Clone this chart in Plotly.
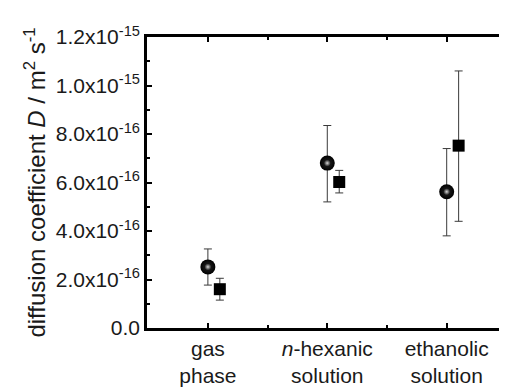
import plotly.graph_objects as go

categories = ["gas<br>phase", "<i>n</i>-hexanic<br>solution", "ethanolic<br>solution"]
cat_pos = [1, 2, 3]
square_offset = 0.1

sphere_vals = [2.52e-16, 6.80e-16, 5.62e-16]
sphere_up = [3.26e-16, 8.35e-16, 7.40e-16]
sphere_low = [1.77e-16, 5.20e-16, 3.80e-16]

square_vals = [1.60e-16, 6.02e-16, 7.52e-16]
square_up = [2.05e-16, 6.50e-16, 10.60e-16]
square_low = [1.15e-16, 5.57e-16, 4.40e-16]

ytick_vals = [0, 2e-16, 4e-16, 6e-16, 8e-16, 1.0e-15, 1.2e-15]
ytick_text = ["0.0", "2.0x10<sup>-16</sup>", "4.0x10<sup>-16</sup>", "6.0x10<sup>-16</sup>",
              "8.0x10<sup>-16</sup>", "1.0x10<sup>-15</sup>", "1.2x10<sup>-15</sup>"]

font = "Liberation Sans, Arial, sans-serif"
txt = "#1a1a1a"

fig = go.Figure()
# sphere body (radial gradient: gradient.color is the centre colour)
fig.add_trace(go.Scatter(
    x=cat_pos, y=sphere_vals, mode="markers",
    marker=dict(symbol="circle", size=15, color="#000000",
                gradient=dict(type="radial", color="#2a2a2a"),
                line=dict(width=0)),
    error_y=dict(type="data", symmetric=False,
                 array=[u - v for u, v in zip(sphere_up, sphere_vals)],
                 arrayminus=[v - l for v, l in zip(sphere_vals, sphere_low)],
                 thickness=1, width=4, color="#3a3a3a"),
    showlegend=False, hoverinfo="skip"))
# highlight of the sphere
fig.add_trace(go.Scatter(
    x=cat_pos, y=sphere_vals, mode="markers",
    marker=dict(symbol="circle", size=7, color="#101010",
                gradient=dict(type="radial", color="#d8d8d8"),
                line=dict(width=0)),
    showlegend=False))
fig.add_trace(go.Scatter(
    x=[p + square_offset for p in cat_pos], y=square_vals, mode="markers",
    marker=dict(symbol="square", size=12, color="#000000", line=dict(width=0)),
    error_y=dict(type="data", symmetric=False,
                 array=[u - v for u, v in zip(square_up, square_vals)],
                 arrayminus=[v - l for v, l in zip(square_vals, square_low)],
                 thickness=1, width=4, color="#3a3a3a"),
    showlegend=False))

axis_common = dict(showline=True, linecolor="black", linewidth=2.5, mirror="allticks",
                   ticks="inside", ticklen=5, tickwidth=2, tickcolor="black",
                   showgrid=False, zeroline=False, automargin=False)

fig.update_xaxes(range=[0.49, 3.48], tickmode="array", tickvals=cat_pos, ticktext=categories,
                 tickfont=dict(family=font, size=21, color=txt),
                 minor=dict(tickvals=[1.5, 2.5], ticks="inside", ticklen=3, tickwidth=2,
                            tickcolor="black"),
                 **axis_common)
fig.update_yaxes(range=[0, 1.2e-15], tickmode="array", tickvals=ytick_vals, ticktext=ytick_text,
                 tickfont=dict(family=font, size=21, color=txt),
                 minor=dict(dtick=1e-16, ticks="inside", ticklen=3, tickwidth=2,
                            tickcolor="black"),
                 title=dict(text="diffusion coefficient <i>D</i> / m<sup>2</sup> s<sup>-1</sup>",
                            font=dict(family=font, size=24, color=txt), standoff=4),
                 **axis_common)

# the page body has an 8px margin, so the figure is offset by 8px
fig.update_layout(width=499, height=382, margin=dict(l=139, r=3, t=29, b=62),
                  plot_bgcolor="white", paper_bgcolor="white",
                  font=dict(family=font, size=20, color=txt))

fig.write_html("out.html")
